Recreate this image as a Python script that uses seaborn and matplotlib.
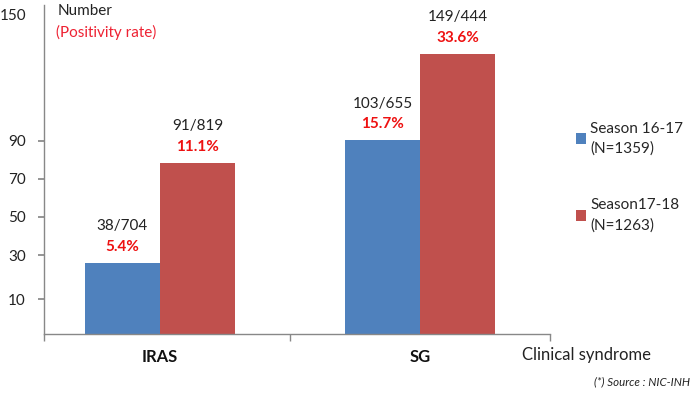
import matplotlib
matplotlib.use("Agg")
import matplotlib.pyplot as plt
import seaborn as sns
import pandas as pd

categories = ["IRAS", "SG"]
seasons = ["Season 16-17", "Season17-18"]
season_labels = ["Season 16-17\n(N=1359)", "Season17-18\n(N=1263)"]
counts_1617 = [38, 103]
counts_1718 = [91, 149]
totals_1617 = [704, 655]
totals_1718 = [819, 444]
rates_1617 = ["5.4%", "15.7%"]
rates_1718 = ["11.1%", "33.6%"]
ytick_labels = ["10", "30", "50", "70", "90", "150"]

colors = ["#4F81BD", "#C0504D"]

df = pd.DataFrame({
    "category": categories * 2,
    "season": [seasons[0]] * 2 + [seasons[1]] * 2,
    "count": counts_1617 + counts_1718,
})

sns.set_theme(style="white")
plt.rcParams["font.family"] = ["Lato", "DejaVu Sans"]

fig = plt.figure(figsize=(6.93, 3.93), dpi=100)
ax = fig.add_axes([44 / 693, 59 / 393, 506 / 693, 329 / 393])

sns.barplot(data=df, x="category", y="count", hue="season", order=categories,
            hue_order=seasons, palette=colors, width=0.577, ax=ax,
            saturation=1, legend=True, edgecolor="none")

ax.set_xlim(-0.446, 1.5)
ax.set_ylim(0, 175)

# y ticks (labels as shown in the original)
ax.set_yticks([18.6, 42, 62.3, 82.5, 102.7, 170])
ax.set_yticklabels(ytick_labels, fontsize=11, color="#222222")
ax.tick_params(axis="y", length=4, color="#888888", left=True, pad=9)
ax.yaxis.get_major_ticks()[-1].tick1line.set_visible(False)
ax.set_xticks([0, 1])
ax.set_xticklabels(categories, fontsize=12, fontweight="bold", color="#111111")
ax.tick_params(axis="x", length=0, pad=11)
ax.set_xticks([-0.446, 0.5, 1.5], minor=True)
ax.tick_params(axis="x", which="minor", length=5, color="#888888", bottom=True, direction="out")

for s in ["top", "right"]:
    ax.spines[s].set_visible(False)
for s in ["left", "bottom"]:
    ax.spines[s].set_color("#888888")
    ax.spines[s].set_linewidth(1)
ax.set_xlabel("")
ax.set_ylabel("")

# annotations
containers = ax.containers
for ci, (cnts, tots, rts) in enumerate([(counts_1617, totals_1617, rates_1617),
                                        (counts_1718, totals_1718, rates_1718)]):
    for bar, c, t, r in zip(containers[ci], cnts, tots, rts):
        xc = bar.get_x() + bar.get_width() / 2
        h = bar.get_height()
        ax.annotate(f"{c}/{t}", (xc, h), xytext=(0, 26.5), textcoords="offset points",
                    ha="center", va="center", fontsize=11, color="#222222")
        ax.annotate(r, (xc, h), xytext=(0, 11.5), textcoords="offset points",
                    ha="center", va="center", fontsize=11, fontweight="bold", color="#EE1111")

fig.text(58 / 693, 1 - 11 / 393, "Number", fontsize=11, color="#222222", va="center")
fig.text(56 / 693, 1 - 32 / 393, "(Positivity rate)", fontsize=11, color="#EE2233", va="center")
fig.text(522 / 693, 1 - 355 / 393, "Clinical syndrome", fontsize=12, color="#222222", va="center")
fig.text(690 / 693, 1 - 382 / 393, "(*) Source : NIC-INH", fontsize=8.3, style="italic",
         color="#222222", va="center", ha="right")

handles, _ = ax.get_legend_handles_labels()
leg = ax.legend(handles, season_labels, loc="center left", bbox_to_anchor=(568 / 693, 1 - 177 / 393),
                bbox_transform=fig.transFigure, frameon=False, fontsize=11, labelspacing=2.8,
                handlelength=0.7, handleheight=0.7, handletextpad=0.25, borderpad=0)
for t in leg.get_texts():
    t.set_linespacing(1.5)

fig.savefig("out.png", dpi=100)
